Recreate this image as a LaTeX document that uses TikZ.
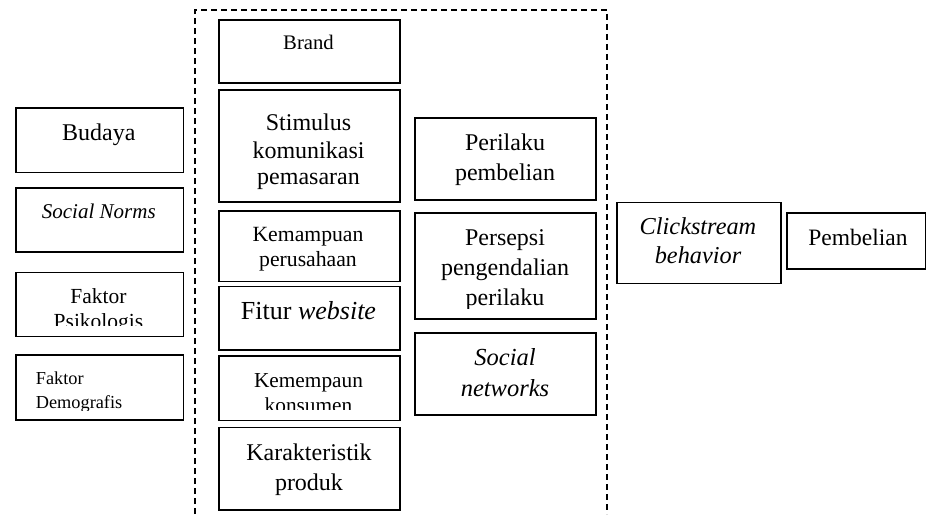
\documentclass[tikz,border=0pt]{standalone}
\usepackage{fontspec}
\setmainfont{Liberation Serif}
\begin{document}
\begin{tikzpicture}[x=1pt,y=-1pt,
  box/.style={draw, line width=1.5pt, anchor=north west, inner sep=0pt},
  lbl/.style={anchor=base, inner sep=0pt, text=black},
  frame/.style={line width=1.6pt, dash pattern=on 6pt off 4pt}]
\newcommand\bx[5]{\node[box, minimum width={(#4-#2)*1pt}, minimum height={(#5-#3)*1pt}] (#1) at (#2,#3) {};}
\newcommand\fs[1]{\fontsize{#1}{#1}\selectfont}
\useasboundingbox (0,0) rectangle (926,514);
% dashed frame
\coordinate (fbl) at (195,514);
\coordinate (ftl) at (195,10);
\coordinate (ftr) at (607,10);
\coordinate (fbr) at (607,514);
\draw[frame] (fbl) -- (ftl) -- (ftr) -- (fbr);
% left column
\bx{budaya}{15}{107.3}{182.7}{171.7}
\bx{norms}{15}{187.3}{182.7}{251}
\bx{psiko}{15}{271.7}{182.7}{335.7}
\bx{demo}{15}{354.3}{182.7}{419}
\node[lbl, font=\fs{24}] (t-budaya) at (98.8,140) {Budaya};
\node[lbl, font=\fs{21}\itshape] (t-norms) at (98.8,218.3) {Social Norms};
\begin{scope}
\clip (16,273) rectangle (182,325);
\node[lbl, font=\fs{21.5}] (t-psiko1) at (98.5,303.5) {Faktor};
\node[lbl, font=\fs{21.5}] (t-psiko2) at (98.5,328) {Psikologis};
\end{scope}
\begin{scope}
\clip (16,356) rectangle (182,410);
\node[lbl, anchor=base west, font=\fs{18.3}] (t-demo1) at (35.7,384.3) {Faktor};
\node[lbl, anchor=base west, font=\fs{18.3}] (t-demo2) at (35.7,408.3) {Demografis};
\end{scope}
% middle column
\bx{brand}{218}{19}{399}{82}
\bx{stim}{218}{89}{399}{201}
\bx{kemp}{218}{210}{399}{280.7}
\bx{fitur}{218}{285.5}{399}{349}
\bx{kons}{218}{355}{399}{419.5}
\bx{karak}{218}{426.7}{399}{509}
\node[lbl, font=\fs{20.7}] (t-brand) at (308.5,49.3) {Brand};
\node[lbl, font=\fs{24}] (t-stim1) at (308.5,130.5) {Stimulus};
\node[lbl, font=\fs{24}] (t-stim2) at (308.5,158.3) {komunikasi};
\node[lbl, font=\fs{24}] (t-stim3) at (308.5,184.5) {pemasaran};
\begin{scope}
\clip (219,211) rectangle (398,271);
\node[lbl, font=\fs{21.7}] (t-kemp1) at (308,241.7) {Kemampuan};
\node[lbl, font=\fs{21.7}] (t-kemp2) at (308,266.7) {perusahaan};
\end{scope}
\node[lbl, font=\fs{26}] (t-fitur) at (308.5,319.3) {Fitur \textit{website}};
\begin{scope}
\clip (219,356) rectangle (398,409.5);
\node[lbl, font=\fs{21.3}] (t-kons1) at (308.5,387.3) {Kemempaun};
\node[lbl, font=\fs{21.3}] (t-kons2) at (308.5,412) {konsumen};
\end{scope}
\node[lbl, font=\fs{24}] (t-karak1) at (309,460) {Karakteristik};
\node[lbl, font=\fs{24}] (t-karak2) at (309,490.7) {produk};
% right column
\bx{peril}{414}{117}{595}{199}
\bx{pers}{414}{212.3}{595}{318.3}
\bx{socnet}{414}{332.3}{595}{414}
\node[lbl, font=\fs{24}] (t-peril1) at (505,150) {Perilaku};
\node[lbl, font=\fs{24}] (t-peril2) at (505,180) {pembelian};
\begin{scope}
\clip (415,213) rectangle (594,308.5);
\node[lbl, font=\fs{24}] (t-pers1) at (505,245.7) {Persepsi};
\node[lbl, font=\fs{24}] (t-pers2) at (505,275.5) {pengendalian};
\node[lbl, font=\fs{24}] (t-pers3) at (505,305.5) {perilaku};
\end{scope}
\node[lbl, font=\fs{24.5}\itshape] (t-socnet1) at (505,365) {Social};
\node[lbl, font=\fs{24.5}\itshape] (t-socnet2) at (505,396.7) {networks};
% outputs
\bx{click}{616}{201.7}{780}{282.7}
\bx{pemb}{786}{212}{925}{268}
\node[lbl, font=\fs{24.3}\itshape] (t-click1) at (698,234.3) {Clickstream};
\node[lbl, font=\fs{24.3}\itshape] (t-click2) at (698,263.3) {behavior};
\node[lbl, font=\fs{23.5}] (t-pemb) at (858,245) {Pembelian};
\end{tikzpicture}
\end{document}
